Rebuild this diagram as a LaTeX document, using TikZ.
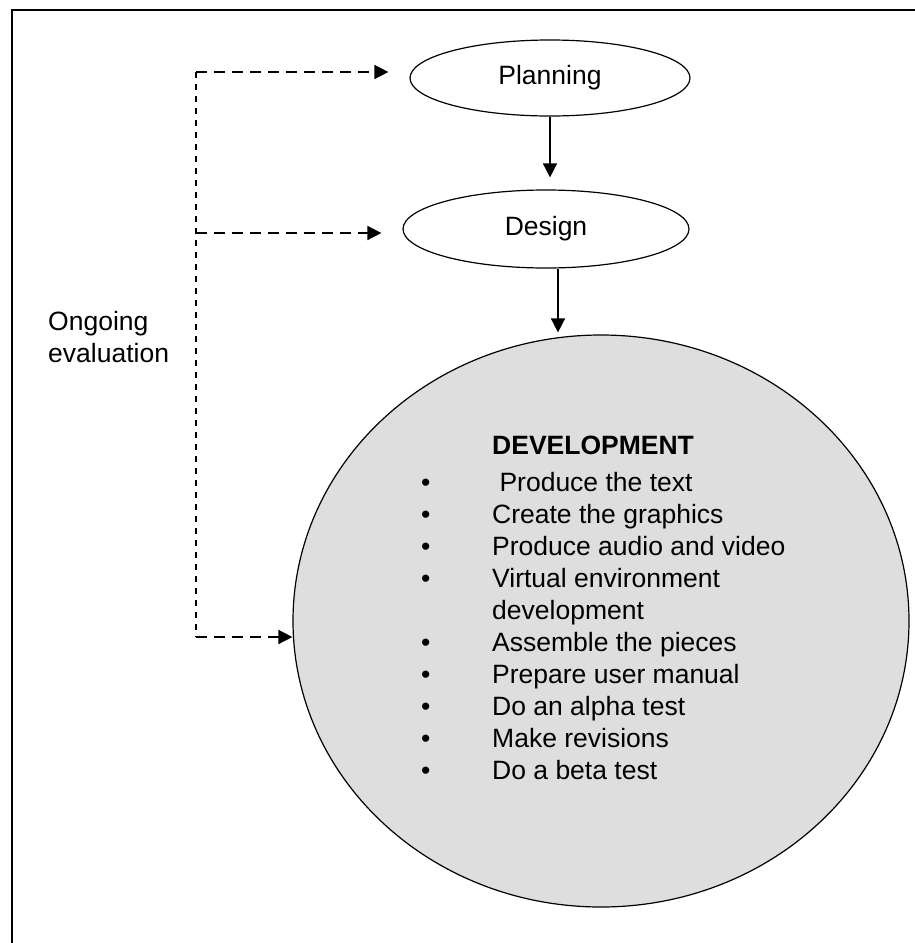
\documentclass[tikz,border=0pt]{standalone}
\usepackage{fontspec}
\setmainfont{Liberation Sans}
\usetikzlibrary{shapes.geometric,arrows.meta}

\newcommand{\devitem}[1]{\makebox[71pt][l]{•}#1}

\begin{document}
\begin{tikzpicture}[x=1pt, y=-1pt,
    every node/.style={font=\fontsize{26.5}{32}\selectfont},
    stage/.style={line width=1.2pt, shape=ellipse, draw=black, inner sep=0pt},
    flow/.style={line width=1.6pt, -{Triangle[length=14pt,width=14pt]}},
    evalline/.style={line width=1.6pt, dash pattern=on 11pt off 7pt},
    ]
    \useasboundingbox (0,0) rectangle (915,943);
    \draw[line width=2pt] (12,943) -- (12,10) -- (915,10);

    \node[stage, minimum width=280, minimum height=76] (plan) at (550,78) {Planning};
    \node[stage, minimum width=286, minimum height=78] (des)  at (546,229) {Design};
    \node[stage, fill=black!13, minimum width=616, minimum height=572] (dev) at (601,621) {};
    \node[anchor=north west, inner sep=0pt, align=left] (devlist) at (421,436) {
        \hspace*{71pt}\textbf{DEVELOPMENT}\\[5pt]
        \devitem{\ Produce the text}\\
        \devitem{Create the graphics}\\
        \devitem{Produce audio and video}\\
        \devitem{Virtual environment}\\
        \hspace*{71pt}development\\
        \devitem{Assemble the pieces}\\
        \devitem{Prepare user manual}\\
        \devitem{Do an alpha test}\\
        \devitem{Make revisions}\\
        \devitem{Do a beta test}};
    \node[anchor=north west, inner sep=0pt, align=left] (evlabel) at (48,311) {Ongoing\\evaluation};

    \draw[flow] (plan.south) -- ([yshift=12pt]plan.south |- des.north);
    \draw[flow] ([xshift=12pt]des.south) -- ([xshift=12pt,yshift=2pt]des.south |- dev.north);

    % ongoing evaluation loop
    \coordinate (evtop) at (196,72);
    \coordinate (evmid) at (196,233);
    \coordinate (evbot) at (196,637);
    \draw[evalline, dash pattern=on 6pt off 6pt] (evtop) -- (evbot);
    \draw[evalline, -{Triangle[length=14pt,width=14pt]}] (evtop) -- ([xshift=-21pt]evtop -| plan.west);
    \draw[evalline, -{Triangle[length=14pt,width=14pt]}] (evmid) -- ([xshift=-21pt]evmid -| des.west);
    \draw[evalline, -{Triangle[length=14pt,width=14pt]}] (evbot) -- (evbot -| dev.west);
\end{tikzpicture}
\end{document}
